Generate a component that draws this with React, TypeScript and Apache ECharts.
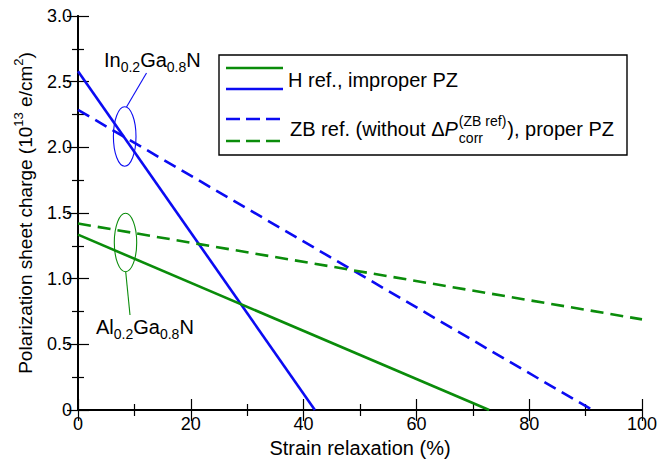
import React, { useEffect, useRef } from "react";
import * as echarts from "echarts";

// ---- data ----
const xTickValues = [0, 20, 40, 60, 80, 100];
const yTickValues = [0, 0.5, 1.0, 1.5, 2.0, 2.5, 3.0];
const inGaN_H = [[0, 2.58], [42.0, 0]];
const inGaN_ZB = [[0, 2.285], [91.2, 0]];
const alGaN_H = [[0, 1.335], [72.9, 0]];
const alGaN_ZB = [[0, 1.42], [100, 0.69]];

const BLUE = "#0b0bf2";
const GREEN = "#0a8c0a";
const FONT = "'Liberation Sans', Arial, Helvetica, sans-serif";

function measure(text: string, size: number, style = "normal") {
  const ctx = document.createElement("canvas").getContext("2d")!;
  ctx.font = `${style} ${size}px 'Liberation Sans', Arial, sans-serif`;
  return ctx.measureText(text).width;
}

export default function App() {
  const ref = useRef<HTMLDivElement>(null);
  useEffect(() => {
    const chart = echarts.init(ref.current!, null, { renderer: "svg" });

    const tickCommon = {
      axisLine: { show: true, lineStyle: { color: "#000", width: 1.9 } },
      axisTick: { show: true, inside: true, length: 11, lineStyle: { color: "#000", width: 1.2 } },
      minorTick: { show: true, splitNumber: 2, length: 6, lineStyle: { color: "#000", width: 1.2 } },
      splitLine: { show: false },
    };

    const xBase = { type: "value", min: 0, max: 100, interval: 20, ...tickCommon };
    const yBase = { type: "value", min: 0, max: 3, interval: 0.5, ...tickCommon };

    // legend layout
    const lx = 290;
    const t1 = "ZB ref. (without \u0394";
    const w1 = measure(t1, 20);
    const wP = measure("P", 20, "italic");
    const xs = lx + w1 + wP + 1;
    const wsup = measure("(ZB ref)", 14);
    const wsub = measure("corr", 14);
    const x3 = xs + Math.max(wsup, wsub) + 1;

    const txt = (text: string, x: number, y: number, size: number, fill = "#000", extra: any = {}) => ({
      type: "text",
      x,
      y,
      z: 10,
      style: { text, fontSize: size, fontFamily: FONT, fill, verticalAlign: "middle", align: "left", ...extra },
    });

    const subRich = (color: string) => ({
      a: { fontSize: 20, lineHeight: 28, fontFamily: FONT, color },
      s: { fontSize: 14, verticalAlign: "bottom", fontFamily: FONT, color },
    });

    chart.setOption({
      animation: false,
      grid: { left: 78, right: 18, top: 16, bottom: 54, containLabel: false, outerBoundsMode: "none" },
      xAxis: [
        {
          ...xBase,
          position: "bottom",
          name: "Strain relaxation (%)",
          nameLocation: "middle",
          nameGap: 24,
          nameTextStyle: { fontSize: 20, fontFamily: FONT, color: "#000" },
          axisLabel: { show: true, fontSize: 18, fontFamily: FONT, color: "#000", margin: 5 },
        },
        { ...xBase, position: "top", axisLabel: { show: false } },
      ],
      yAxis: [
        {
          ...yBase,
          position: "left",
          name: "{a|Polarization sheet charge (10}{s|13}{a| e/cm}{s|2}{a|)}",
          nameLocation: "middle",
          nameGap: 40,
          nameRotate: 90,
          nameTextStyle: {
            fontSize: 19,
            fontFamily: FONT,
            color: "#000",
            rich: {
              a: { fontSize: 19, lineHeight: 26, fontFamily: FONT, color: "#000" },
              s: { fontSize: 13, verticalAlign: "top", fontFamily: FONT, color: "#000" },
            },
          },
          axisLabel: {
            show: true,
            fontSize: 18,
            fontFamily: FONT,
            color: "#000",
            margin: 6,
            formatter: (v: number) => (yTickValues.includes(v) ? (v === 0 ? "0" : v.toFixed(1)) : ""),
          },
        },
        { ...yBase, position: "right", axisLabel: { show: false } },
      ],
      series: [
        { type: "line", data: inGaN_H, symbol: "none", lineStyle: { color: BLUE, width: 2.6 }, xAxisIndex: 0, yAxisIndex: 0 },
        { type: "line", data: inGaN_ZB, symbol: "none", lineStyle: { color: BLUE, width: 2.6, type: [13, 7] }, xAxisIndex: 0, yAxisIndex: 0 },
        { type: "line", data: alGaN_H, symbol: "none", lineStyle: { color: GREEN, width: 2.6 }, xAxisIndex: 0, yAxisIndex: 0 },
        { type: "line", data: alGaN_ZB, symbol: "none", lineStyle: { color: GREEN, width: 2.6, type: [13, 7] }, xAxisIndex: 0, yAxisIndex: 0 },
      ],
      graphic: [
        // legend box
        { type: "rect", z: 9, shape: { x: 219, y: 55, width: 408, height: 100 }, style: { fill: "#fff", stroke: "#000", lineWidth: 1.4 } },
        { type: "line", z: 10, shape: { x1: 226, y1: 68, x2: 283, y2: 68 }, style: { stroke: GREEN, lineWidth: 2.6 } },
        { type: "line", z: 10, shape: { x1: 226, y1: 89, x2: 283, y2: 89 }, style: { stroke: BLUE, lineWidth: 2.6 } },
        txt("H ref., improper PZ", 288, 80, 20),
        { type: "line", z: 10, shape: { x1: 226, y1: 119, x2: 281, y2: 119 }, style: { stroke: BLUE, lineWidth: 2.6, lineDash: [14, 6] } },
        { type: "line", z: 10, shape: { x1: 226, y1: 141, x2: 281, y2: 141 }, style: { stroke: GREEN, lineWidth: 2.6, lineDash: [14, 6] } },
        txt(t1, lx, 129, 20),
        txt("P", lx + w1, 129, 20, "#000", { fontStyle: "italic" }),
        txt("(ZB ref)", xs, 121, 14),
        txt("corr", xs, 138, 14),
        txt("), proper PZ", x3, 129, 20),
        // InGaN annotation
        {
          type: "text",
          x: 104,
          y: 60,
          z: 10,
          style: {
            text: "{a|In}{s|0.2}{a|Ga}{s|0.8}{a|N}",
            rich: subRich(BLUE),
            verticalAlign: "middle",
            align: "left",
          },
        },
        { type: "line", z: 10, shape: { x1: 126.5, y1: 107, x2: 146.5, y2: 73 }, style: { stroke: BLUE, lineWidth: 1.1 } },
        { type: "ellipse", z: 10, shape: { cx: 124.7, cy: 136.5, rx: 11.3, ry: 29.7 }, style: { fill: "none", stroke: BLUE, lineWidth: 1.1 } },
        // AlGaN annotation
        {
          type: "text",
          x: 96,
          y: 327,
          z: 10,
          style: {
            text: "{a|Al}{s|0.2}{a|Ga}{s|0.8}{a|N}",
            rich: subRich(GREEN),
            verticalAlign: "middle",
            align: "left",
          },
        },
        { type: "line", z: 10, shape: { x1: 125.7, y1: 271.7, x2: 130, y2: 315 }, style: { stroke: GREEN, lineWidth: 1.1 } },
        { type: "ellipse", z: 10, shape: { cx: 125.5, cy: 242.5, rx: 11.2, ry: 29.2 }, style: { fill: "none", stroke: GREEN, lineWidth: 1.1 } },
      ],
    });
    return () => chart.dispose();
  }, []);
  return <div ref={ref} style={{ width: 660, height: 464, position: "absolute", left: 0, top: 0 }} />;
}
